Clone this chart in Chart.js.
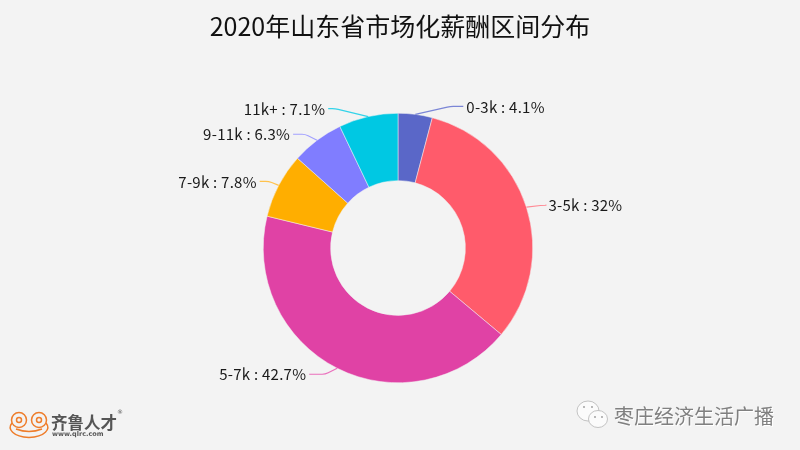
<!DOCTYPE html>
<html>
<head>
<meta charset="utf-8">
<style>
html, body { margin: 0; padding: 0; background: #f3f3f3; }
#wrap { width: 800px; height: 450px; }
</style>
<script src="https://cdn.jsdelivr.net/npm/chart.js@4/dist/chart.umd.min.js"></script>
</head>
<body>
<div id="wrap"><canvas id="chart"></canvas></div>
<script>
const titleText = '2020年山东省市场化薪酬区间分布';
const categories = ['0-3k', '3-5k', '5-7k', '7-9k', '9-11k', '11k+'];
const shares = [4.1, 32, 42.7, 7.8, 6.3, 7.1];
const colors = ['#5a67c8', '#ff5b6b', '#e042a5', '#ffae00', '#807dff', '#00c8e3'];
const lineColors = ['#7b86d6', '#ff8a95', '#ea6fbc', '#ffc24d', '#a3a1ff', '#33d3e9'];

const labelFont = '15px "Noto Sans CJK SC", "Noto Sans", sans-serif';

// elbow offset from the arc edge, then length of the flat part (dx, dy, flat)
const leaders = [
    [35, -8, 13],
    [17, -2, 2],
    [-12, 6, 16],
    [-10, -4, 9],
    [-12, -6, 12],
    [-33, -8, 7]
];

// leader lines and labels for each slice
const sliceLabels = {
    id: 'sliceLabels',
    afterLayout(chart) {
        // doughnut sits 2px left of the page centre, the title does not
        chart.titleBlock.left += 2;
        chart.titleBlock.right += 2;
    },
    afterDatasetsDraw(chart) {
        const ctx = chart.ctx;
        const arcs = chart.getDatasetMeta(0).data;
        ctx.save();
        arcs.forEach((arc, i) => {
            const mid = (arc.startAngle + arc.endAngle) / 2;
            const x0 = arc.x + Math.cos(mid) * arc.outerRadius;
            const y0 = arc.y + Math.sin(mid) * arc.outerRadius;
            const [dx, dy, flat] = leaders[i];
            const side = dx > 0 ? 1 : -1;
            const ex = x0 + dx;
            const ey = y0 + dy;
            ctx.beginPath();
            ctx.moveTo(x0, y0);
            ctx.lineTo(ex - side * 3, ey - dy * 3 / Math.abs(dx));
            ctx.quadraticCurveTo(ex, ey, ex + side * 3, ey);
            ctx.lineTo(ex + side * flat, ey);
            ctx.strokeStyle = lineColors[i];
            ctx.lineWidth = 1.2;
            ctx.stroke();

            ctx.font = labelFont;
            ctx.letterSpacing = '0.25px';
            ctx.fillStyle = '#1a1a1a';
            ctx.textBaseline = 'middle';
            ctx.textAlign = side > 0 ? 'left' : 'right';
            ctx.fillText(categories[i] + ' : ' + shares[i] + '%', ex + side * (flat + 3), ey + 0.5);
        });
        ctx.restore();
    }
};

// the two watermarks in the bottom corners
const watermarks = {
    id: 'watermarks',
    afterDraw(chart) {
        const ctx = chart.ctx;
        ctx.save();

        // frog logo
        ctx.strokeStyle = '#ee7d2b';
        ctx.lineWidth = 1.5;
        [[19, 420], [39, 420]].forEach(([x, y]) => {
            ctx.beginPath();
            ctx.arc(x, y, 7.5, 0, Math.PI * 2);
            ctx.stroke();
            ctx.beginPath();
            ctx.arc(x, y, 2.5, 0, Math.PI * 2);
            ctx.stroke();
        });
        ctx.beginPath();
        ctx.moveTo(12, 423);
        ctx.bezierCurveTo(7, 429, 13, 437, 29, 437.5);
        ctx.bezierCurveTo(45, 437, 51, 429, 46, 423);
        ctx.stroke();
        ctx.beginPath();
        ctx.moveTo(16, 429);
        ctx.quadraticCurveTo(29, 434, 42, 429);
        ctx.stroke();

        ctx.textBaseline = 'middle';
        ctx.textAlign = 'left';
        ctx.fillStyle = '#555';
        ctx.font = 'bold 16.5px "Noto Sans CJK SC", sans-serif';
        ctx.fillText('齐鲁人才', 51, 423);
        ctx.font = 'bold 6.5px "DejaVu Sans", sans-serif';
        ctx.fillText('www.qlrc.com', 52, 434);
        ctx.font = '6px "DejaVu Sans", sans-serif';
        ctx.fillText('®', 117, 412);

        // wechat bubbles
        ctx.fillStyle = '#fbfbfb';
        ctx.strokeStyle = '#b5b5b5';
        ctx.lineWidth = 0.8;
        ctx.beginPath();
        ctx.ellipse(588, 411, 11, 10, 0, 0, Math.PI * 2);
        ctx.fill();
        ctx.stroke();
        ctx.beginPath();
        ctx.ellipse(598, 419, 9.5, 8.5, 0, 0, Math.PI * 2);
        ctx.fill();
        ctx.stroke();
        ctx.fillStyle = '#999';
        [[584, 407], [592, 407], [595, 417], [602, 417]].forEach(([x, y]) => {
            ctx.beginPath();
            ctx.arc(x, y, 0.9, 0, Math.PI * 2);
            ctx.fill();
        });

        // embossed account name
        ctx.font = '20px "Noto Sans CJK SC", sans-serif';
        ctx.fillStyle = '#ffffff';
        ctx.fillText('枣庄经济生活广播', 615, 417);
        ctx.fillStyle = '#808080';
        ctx.fillText('枣庄经济生活广播', 614, 416);
        ctx.restore();
    }
};

new Chart(document.getElementById('chart'), {
    type: 'doughnut',
    data: {
        labels: categories,
        datasets: [{
            data: shares,
            backgroundColor: colors,
            borderColor: '#f3f3f3',
            borderWidth: 0.5
        }]
    },
    options: {
        responsive: true,
        maintainAspectRatio: false,
        animation: false,
        cutout: '50%',
        layout: { padding: { left: 0, right: 4, top: 0, bottom: 67 } },
        plugins: {
            legend: { display: false },
            tooltip: { enabled: false },
            title: {
                display: true,
                text: titleText,
                color: '#111',
                font: { family: '"Noto Sans CJK SC", sans-serif', size: 25, weight: 'normal', lineHeight: 1.2 },
                padding: { top: 11, bottom: 72 }
            }
        }
    },
    plugins: [sliceLabels, watermarks]
});
</script>
</body>
</html>
